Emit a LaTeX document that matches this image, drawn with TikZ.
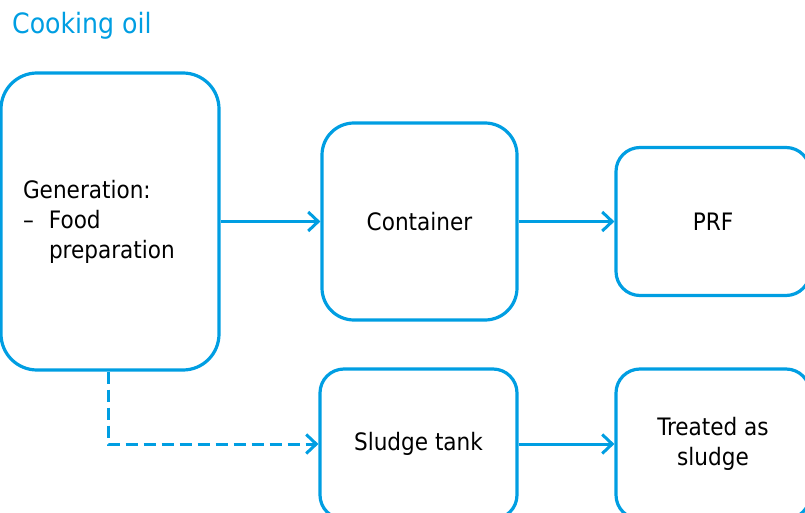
\documentclass[tikz,border=0pt]{standalone}
\usepackage{fontspec}
\setmainfont{DejaVu Sans Condensed}
\usetikzlibrary{arrows.meta,positioning,shapes}

\definecolor{oilblue}{RGB}{0,158,226}

\begin{document}
\begin{tikzpicture}[x=1pt,y=-1pt,
            step box/.style={draw=oilblue,line width=3.2pt,rectangle,align=center,
                             font=\fontsize{24}{30}\selectfont,inner sep=0pt},
            big box/.style={step box,minimum width=195pt,minimum height=197pt,rounded corners=32pt},
            small box/.style={step box,minimum width=194pt,minimum height=148pt,rounded corners=24pt},
            title/.style={text=oilblue,font=\fontsize{28}{32}\selectfont,anchor=base west,inner sep=0pt},
            flow/.style={draw=oilblue,line width=3pt,-{Straight Barb[length=10pt,width=19pt,line width=3pt]}}
          ]
          \useasboundingbox (0,0) rectangle (805,513);

          %labels
          \node[title] (head) at (12,34) {Cooking oil};

          %boxes
          \node[big box,minimum width=218pt,minimum height=297pt,rounded corners=36pt,
                text width=174pt,align=left] (gen) at (110,221.5)
                {Generation:\\\makebox[26pt][l]{–}Food\\\hspace*{26pt}preparation};
          \node[big box] (cont) at (419.5,221.5) {Container};
          \node[small box] (prf) at (713,221.5) {PRF};
          \node[small box,minimum width=197pt,minimum height=150pt] (tank) at (418.5,444) {Sludge tank};
          \node[small box,minimum height=150pt] (treat) at (713,444) {Treated as\\sludge};

          %connectors
          \path[flow]
          (gen) edge (cont)
          (cont) edge (prf)
          (tank) edge (treat)
          ;
          \draw[flow,dash pattern=on 12pt off 6pt] ([xshift=-2pt]gen.south) |- (tank.west);

      \end{tikzpicture}
\end{document}
